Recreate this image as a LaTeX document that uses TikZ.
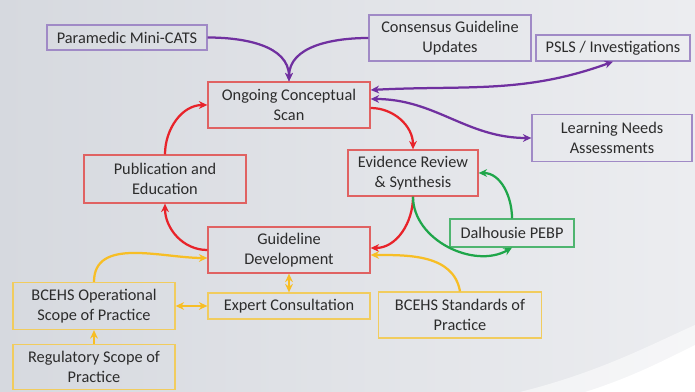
\documentclass[tikz,border=0pt]{standalone}
\usepackage{fontspec}
\setmainfont{Carlito}
\usetikzlibrary{arrows.meta}
\definecolor{ink}{HTML}{2C2C2C}
\definecolor{bgleft}{HTML}{D6D9DF}
\definecolor{bgright}{HTML}{ECEDF0}
\definecolor{plum}{HTML}{7030A0}
\definecolor{plumbox}{HTML}{A08AC6}
\definecolor{scarlet}{HTML}{E8232A}
\definecolor{scarletbox}{HTML}{E06262}
\definecolor{leaf}{HTML}{1FA64A}
\definecolor{leafbox}{HTML}{4FB570}
\definecolor{amber}{HTML}{F7BE25}
\definecolor{amberbox}{HTML}{F1CC5E}

\begin{document}
\begin{tikzpicture}[x=.025cm,y=-.025cm,>={Stealth[length=6pt,width=5.5pt]},
  font=\fontsize{11.6}{14}\selectfont,
  box/.style={draw,line width=.9pt,align=center,text=ink,inner sep=2pt},
  link/.style={line width=1.6pt,->}]
  % backdrop
  \shade[left color=bgleft,right color=bgright] (0,0) rectangle (695,392);
  \fill[white,opacity=.5] (520,392) .. controls (600,372) and (650,345) .. (695,325)
    -- (695,392) -- cycle;
  \fill[white] (585,392) .. controls (630,378) and (665,360) .. (695,345)
    -- (695,392) -- cycle;
  \useasboundingbox (0,0) rectangle (695,392);

  % inputs
  \node[box,draw=plumbox,minimum width=4cm,minimum height=.625cm] (cats) at (127,37.5) {Paramedic Mini-CATS};
  \node[box,draw=plumbox,minimum width=4.05cm,minimum height=1.15cm] (cons) at (450,38) {Consensus Guideline\\Updates};
  \node[box,draw=plumbox,minimum width=3.85cm,minimum height=.65cm] (psls) at (613,48) {PSLS / Investigations};
  \node[box,draw=plumbox,minimum width=4cm,minimum height=1.175cm] (learn) at (612,138) {Learning Needs\\Assessments};

  % cycle
  \node[box,draw=scarletbox,minimum width=4.05cm,minimum height=1.15cm] (scan) at (289,105) {Ongoing Conceptual\\Scan};
  \node[box,draw=scarletbox,minimum width=3.25cm,minimum height=1.15cm] (evid) at (413,173) {Evidence Review\\\& Synthesis};
  \node[box,draw=scarletbox,minimum width=4.05cm,minimum height=1.2cm] (pub) at (165,179) {Publication and\\Education};
  \node[box,draw=scarletbox,minimum width=4.05cm,minimum height=1.15cm] (guide) at (289,250) {Guideline\\Development};
  \node[box,draw=leafbox,minimum width=3.1cm,minimum height=.7cm] (dal) at (512,233) {Dalhousie PEBP};

  % practice
  \node[box,draw=amberbox,minimum width=4.05cm,minimum height=1.175cm] (oper) at (94,306) {BCEHS Operational\\Scope of Practice};
  \node[box,draw=amberbox,minimum width=4.05cm,minimum height=.65cm] (expert) at (289,306) {Expert Consultation};
  \node[box,draw=amberbox,minimum width=4.075cm,minimum height=1.15cm] (std) at (460,315) {BCEHS Standards of\\Practice};
  \node[box,draw=amberbox,minimum width=4.05cm,minimum height=1.125cm] (reg) at (94,367) {Regulatory Scope of\\Practice};

  \draw[link,plum] (cats.east) to[out=0,in=90] (scan.north);
  \draw[link,plum] (cons.west) to[out=180,in=90] (scan.north);
  \draw[link,plum,<->] ([yshift=.375cm]scan.east) to[out=3,in=200] (psls.south);
  \draw[link,plum,<->] ([yshift=.15cm]scan.east) to[out=0,in=180] (learn.west);

  \draw[link,scarlet] ([yshift=-.075cm]scan.east) to[out=0,in=90] (evid.north);
  \draw[link,scarlet] (evid.south) to[out=-90,in=0] ([yshift=.05cm]guide.east);
  \draw[link,scarlet] (guide.west) to[out=180,in=-90] (pub.south);
  \draw[link,scarlet] (pub.north) to[out=90,in=180] (scan.west);

  \draw[link,leaf] (evid.south) to[out=-90,in=-150] (dal.south);
  \draw[link,leaf] (dal.north) to[out=90,in=0] (evid.east);

  \draw[link,amber] (oper.north) to[out=90,in=180] ([yshift=-.2cm]guide.west);
  \draw[link,amber,<->] (oper.east) -- (expert.west);
  \draw[link,amber,<->] (guide.south) -- (expert.north);
  \draw[link,amber] (std.north) to[out=100,in=0] ([yshift=-.125cm]guide.east);
  \draw[link,amber] (reg.north) -- (oper.south);
\end{tikzpicture}
\end{document}
